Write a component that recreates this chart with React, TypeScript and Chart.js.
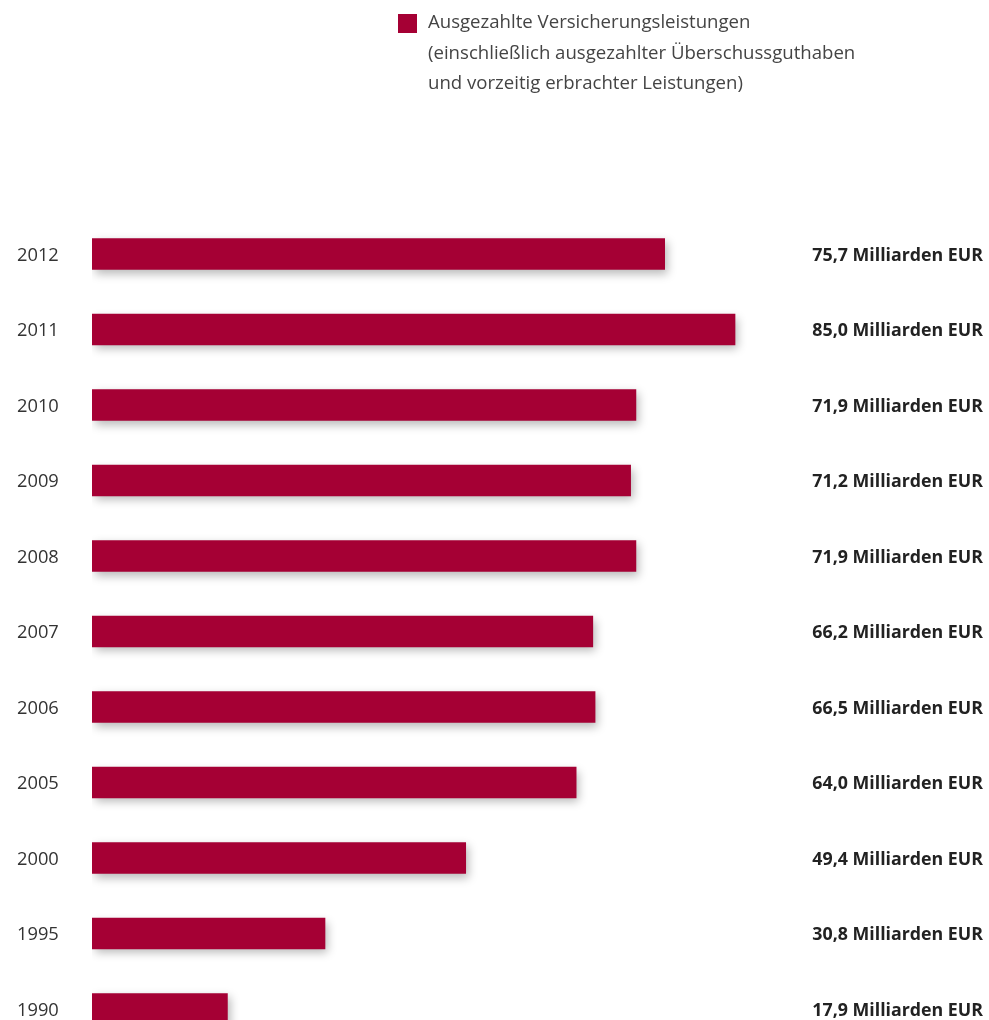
import React, { useEffect, useRef } from "react";
import { Chart, registerables } from "chart.js";

Chart.register(...registerables);

const years: string[] = ["2012", "2011", "2010", "2009", "2008", "2007", "2006", "2005", "2000", "1995", "1990"];
const benefits: number[] = [75.7, 85.0, 71.9, 71.2, 71.9, 66.2, 66.5, 64.0, 49.4, 30.8, 17.9];
const valueLabels: string[] = [
  "75,7 Milliarden EUR",
  "85,0 Milliarden EUR",
  "71,9 Milliarden EUR",
  "71,2 Milliarden EUR",
  "71,9 Milliarden EUR",
  "66,2 Milliarden EUR",
  "66,5 Milliarden EUR",
  "64,0 Milliarden EUR",
  "49,4 Milliarden EUR",
  "30,8 Milliarden EUR",
  "17,9 Milliarden EUR",
];
const legendLines: string[] = [
  "Ausgezahlte Versicherungsleistungen",
  "(einschließlich ausgezahlter Überschussguthaben",
  "und vorzeitig erbrachter Leistungen)",
];

const BAR_COLOR = "#A50034";
const FONT = "'Open Sans', 'Noto Sans', sans-serif";

export default function App() {
  const ref = useRef<HTMLCanvasElement | null>(null);

  useEffect(() => {
    if (!ref.current) return;

    const shadowPlugin = {
      id: "barShadow",
      beforeDatasetsDraw(chart: any) {
        const ctx = chart.ctx;
        ctx.save();
        ctx.shadowColor = "rgba(0,0,0,0.28)";
        ctx.shadowBlur = 9;
        ctx.shadowOffsetX = 3;
        ctx.shadowOffsetY = 4;
      },
      afterDatasetsDraw(chart: any) {
        chart.ctx.restore();
      },
    };

    const textPlugin = {
      id: "texts",
      afterDraw(chart: any) {
        const ctx = chart.ctx;
        ctx.save();
        // legend
        ctx.fillStyle = BAR_COLOR;
        ctx.fillRect(398, 14, 19, 19);
        ctx.fillStyle = "#444444";
        ctx.font = `18.6px ${FONT}`;
        ctx.textAlign = "left";
        ctx.textBaseline = "middle";
        legendLines.forEach((l, i) => ctx.fillText(l, 428, 23 + i * 30.5));
        // value labels
        const yScale = chart.scales.y;
        ctx.fillStyle = "#222222";
        ctx.font = `bold 17.8px ${FONT}`;
        ctx.textAlign = "right";
        valueLabels.forEach((l, i) => {
          ctx.fillText(l, 983, yScale.getPixelForValue(i) + 1.5);
        });
        ctx.restore();
      },
    };

    const chart = new Chart(ref.current, {
      type: "bar",
      data: {
        labels: years,
        datasets: [
          {
            label: legendLines.join(" "),
            data: benefits,
            backgroundColor: BAR_COLOR,
            borderWidth: 0,
            barThickness: 31,
          },
        ],
      },
      options: {
        indexAxis: "y",
        animation: false,
        responsive: false,
        maintainAspectRatio: false,
        layout: { padding: { left: 17, right: 140.5, top: 216.25, bottom: 13.25 } },
        plugins: {
          legend: { display: false },
          tooltip: { enabled: false },
        },
        scales: {
          x: { display: false, min: 0, max: 100 },
          y: {
            afterFit(scale: any) {
              scale.width = 75;
            },
            grid: { display: false, drawTicks: false },
            border: { display: false },
            ticks: {
              crossAlign: "far",
              padding: 0,
              labelOffset: 1.5,
              color: "#333333",
              font: { family: FONT, size: 18.3 },
            },
          },
        },
      },
      plugins: [shadowPlugin, textPlugin],
    });
    return () => chart.destroy();
  }, []);

  return (
    <div style={{ position: "absolute", left: 0, top: 0, width: 989, height: 1020, overflow: "hidden", background: "#fff" }}>
      <canvas ref={ref} width={989} height={1060} style={{ display: "block", width: 989, height: 1060 }} />
    </div>
  );
}
